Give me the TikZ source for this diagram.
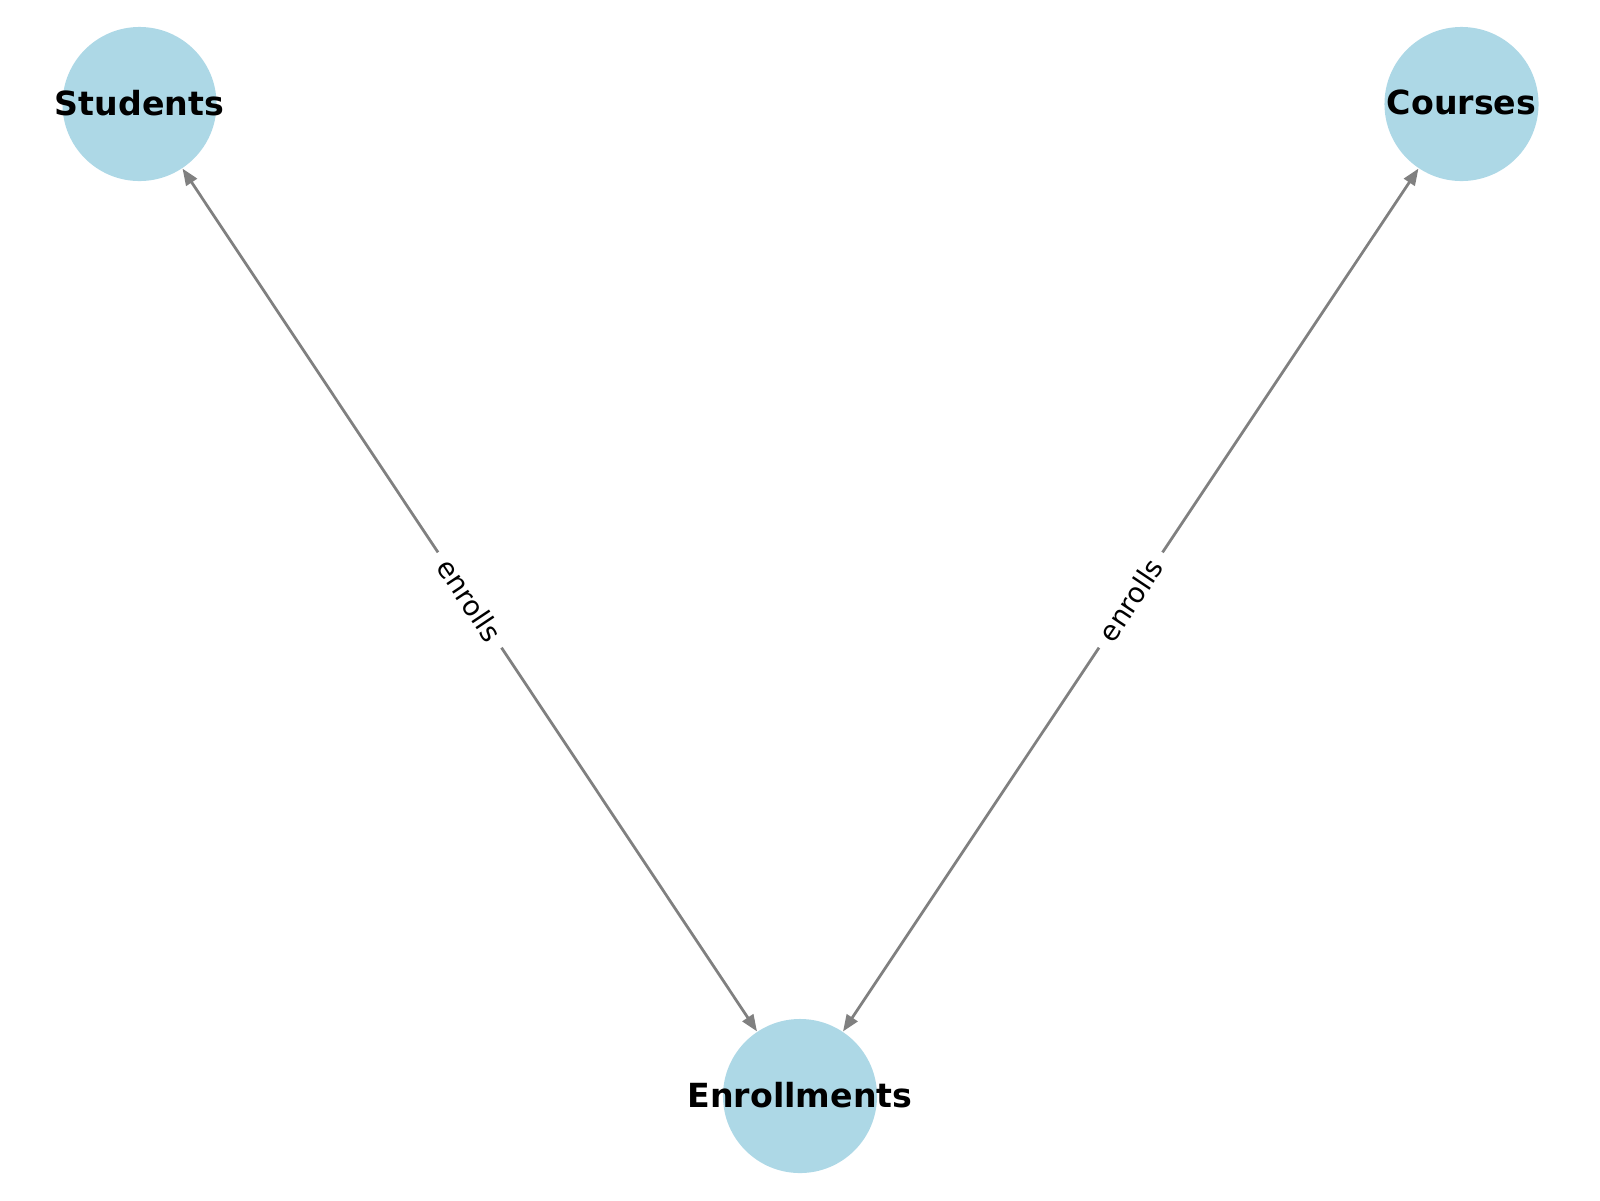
\documentclass[tikz,border=0pt]{standalone}
\usepackage{fontspec}
\setmainfont{DejaVu Sans}
\usetikzlibrary{arrows.meta}

\definecolor{nodeblue}{RGB}{173,216,230}
\definecolor{edgegray}{RGB}{128,128,128}

% zero-width box so the name can overflow its circle
\newcommand{\tblname}[1]{\raisebox{1pt}{\makebox[0pt]{#1}}}

\begin{document}
\begin{tikzpicture}[x=0.0127cm, y=-0.0127cm, >={Triangle[length=6pt,width=4.6pt]},
    table/.style={circle, fill=nodeblue, minimum size=1.956cm, inner sep=0pt,
      font=\fontsize{12}{14}\selectfont\bfseries},
    link/.style={<->, edgegray, line width=1pt},
    rel/.style={sloped, fill=white, inner sep=4pt, text=black,
      font=\fontsize{10}{12}\selectfont}]

  % canvas in pixels of the 1600x1200 frame
  \useasboundingbox (0, 0) rectangle (1600, 1200);

  \node[table] (students) at (139.5, 104) {\tblname{Students}};
  \node[table] (courses) at (1461.5, 104) {\tblname{Courses}};
  \node[table] (enroll) at (800, 1096) {\tblname{Enrollments}};

  \draw[link] (students) -- node[rel] {enrolls} (enroll);
  \draw[link] (enroll) -- node[rel] {enrolls} (courses);

\end{tikzpicture}
\end{document}
